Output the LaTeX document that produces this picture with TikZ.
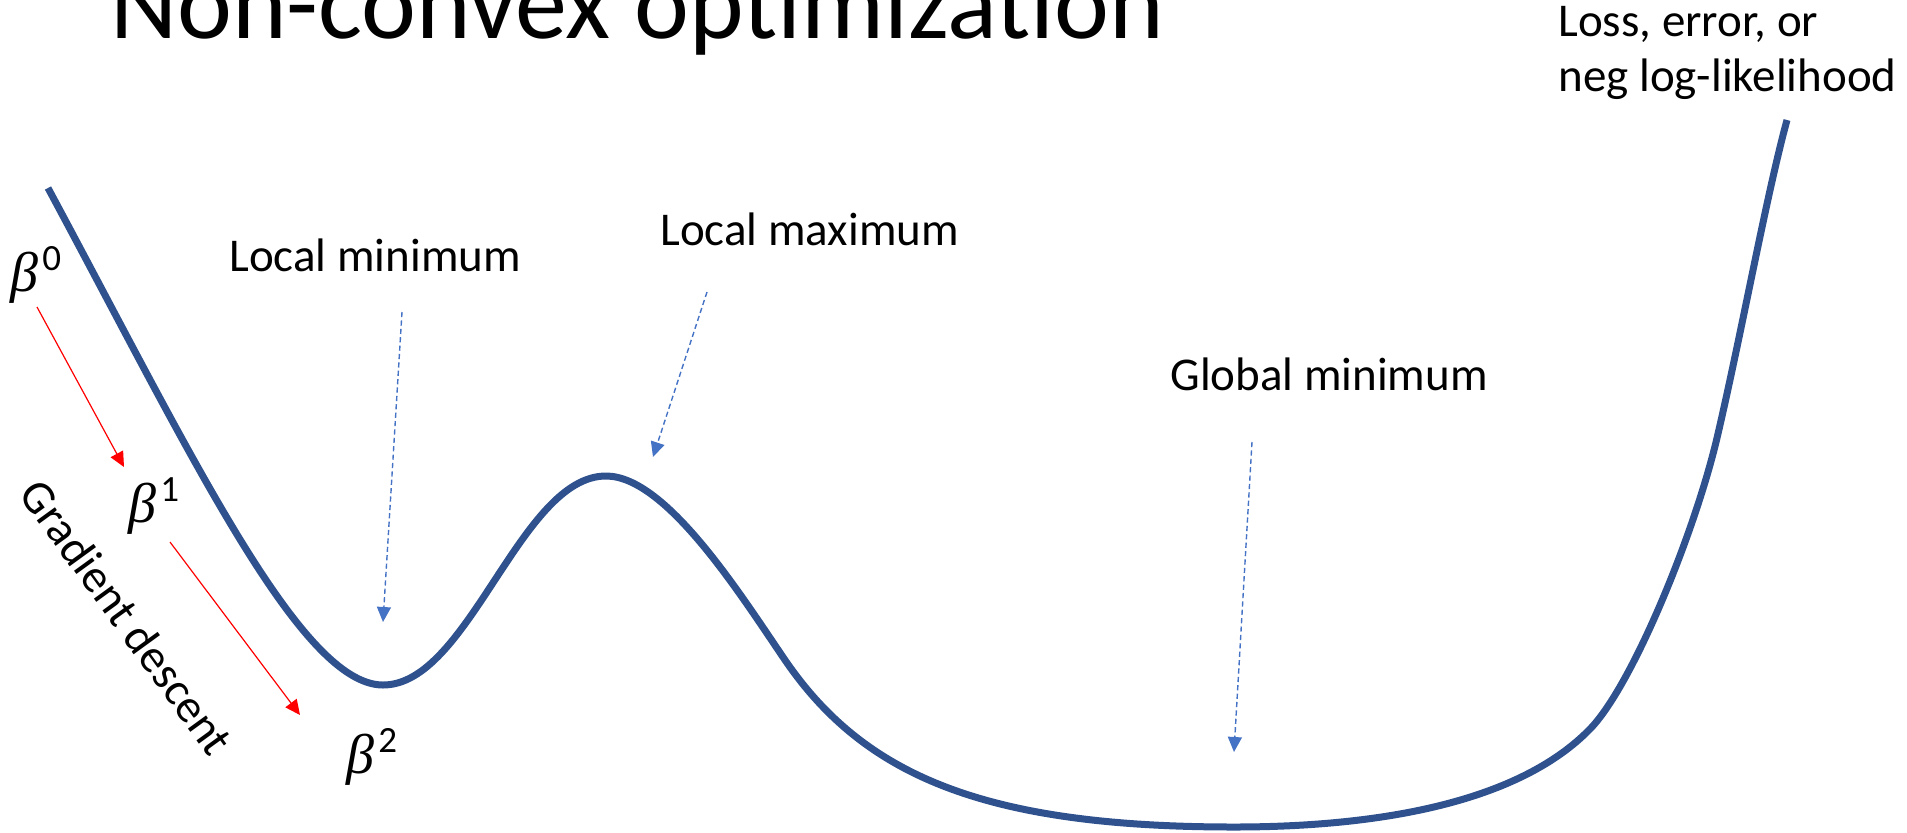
\documentclass[tikz,border=0pt]{standalone}
\usepackage{fontspec}
\setmainfont{Carlito}
\newfontfamily\grkfont{Liberation Serif}
\usetikzlibrary{arrows.meta}
\definecolor{curveblue}{HTML}{2F528F}
\definecolor{arrowblue}{HTML}{4472C4}
\newcommand{\bsup}[1]{{\grkfont\itshape β}\kern2pt\raisebox{10.5pt}{\fontsize{18.5pt}{20pt}\selectfont #1}}
\begin{document}
\begin{tikzpicture}[x=0.5pt,y=-0.5pt,
  lbl/.style={inner sep=0pt, anchor=base west, font=\fontsize{23.5pt}{27.5pt}\selectfont},
  betalbl/.style={inner sep=0pt, anchor=base west, font=\fontsize{28pt}{32pt}\selectfont},
  titlelbl/.style={inner sep=0pt, anchor=base west, font=\fontsize{52pt}{60pt}\selectfont},
  curveline/.style={draw=curveblue, line width=3.5pt},
  bluearrow/.style={draw=arrowblue, line width=0.7pt, dash pattern=on 2.6pt off 1.6pt,
    -{Triangle[length=7.5pt,width=7pt,fill=arrowblue]}},
  redarrow/.style={draw=red, line width=0.6pt,
    -{Triangle[length=7.5pt,width=7pt,fill=red]}}]
\useasboundingbox (0,0) rectangle (1907,832);

% title (cut at top)
\node[titlelbl] (title) at (110,38) {Non-convex optimization};

% axis label
\node[lbl, anchor=north west, align=left] (loss) at (1558,6) {Loss, error, or\\neg log-likelihood};

% curve
\draw[curveline] (48,188)
  .. controls (190,452) and (300,685) .. (383,685)
  .. controls (469,685) and (520,476) .. (606,476)
  .. controls (666,476) and (740,594) .. (785,660)
  .. controls (864,775.5) and (984,827) .. (1234,827)
  .. controls (1384,827) and (1520,801) .. (1590,729)
  .. controls (1632,686) and (1694,535) .. (1717,438)
  .. controls (1742,331) and (1766,197) .. (1787,120);

% labels
\node[lbl] (lmin) at (229,271) {Local minimum};
\node[lbl] (lmax) at (660,245) {Local maximum};
\node[lbl] (gmin) at (1170,390) {Global minimum};
\node[lbl, anchor=center, rotate=-54] (gd) at (127,617) {Gradient descent};

% betas
\node[betalbl] (b0) at (10,291) {\bsup{0}};
\node[betalbl] (b1) at (128,522) {\bsup{1}};
\node[betalbl] (b2) at (346,773) {\bsup{2}};

% blue dashed pointers
\coordinate (p1s) at (402,312); \coordinate (p1e) at (383,622);
\coordinate (p2s) at (707,292); \coordinate (p2e) at (653,457);
\coordinate (p3s) at (1252,442); \coordinate (p3e) at (1234,752);
\draw[bluearrow] (p1s) -- (p1e);
\draw[bluearrow] (p2s) -- (p2e);
\draw[bluearrow] (p3s) -- (p3e);

% red gradient steps
\coordinate (r1s) at (37,307); \coordinate (r1e) at (124,467);
\coordinate (r2s) at (170,542); \coordinate (r2e) at (300,715);
\draw[redarrow] (r1s) -- (r1e);
\draw[redarrow] (r2s) -- (r2e);
\end{tikzpicture}
\end{document}
